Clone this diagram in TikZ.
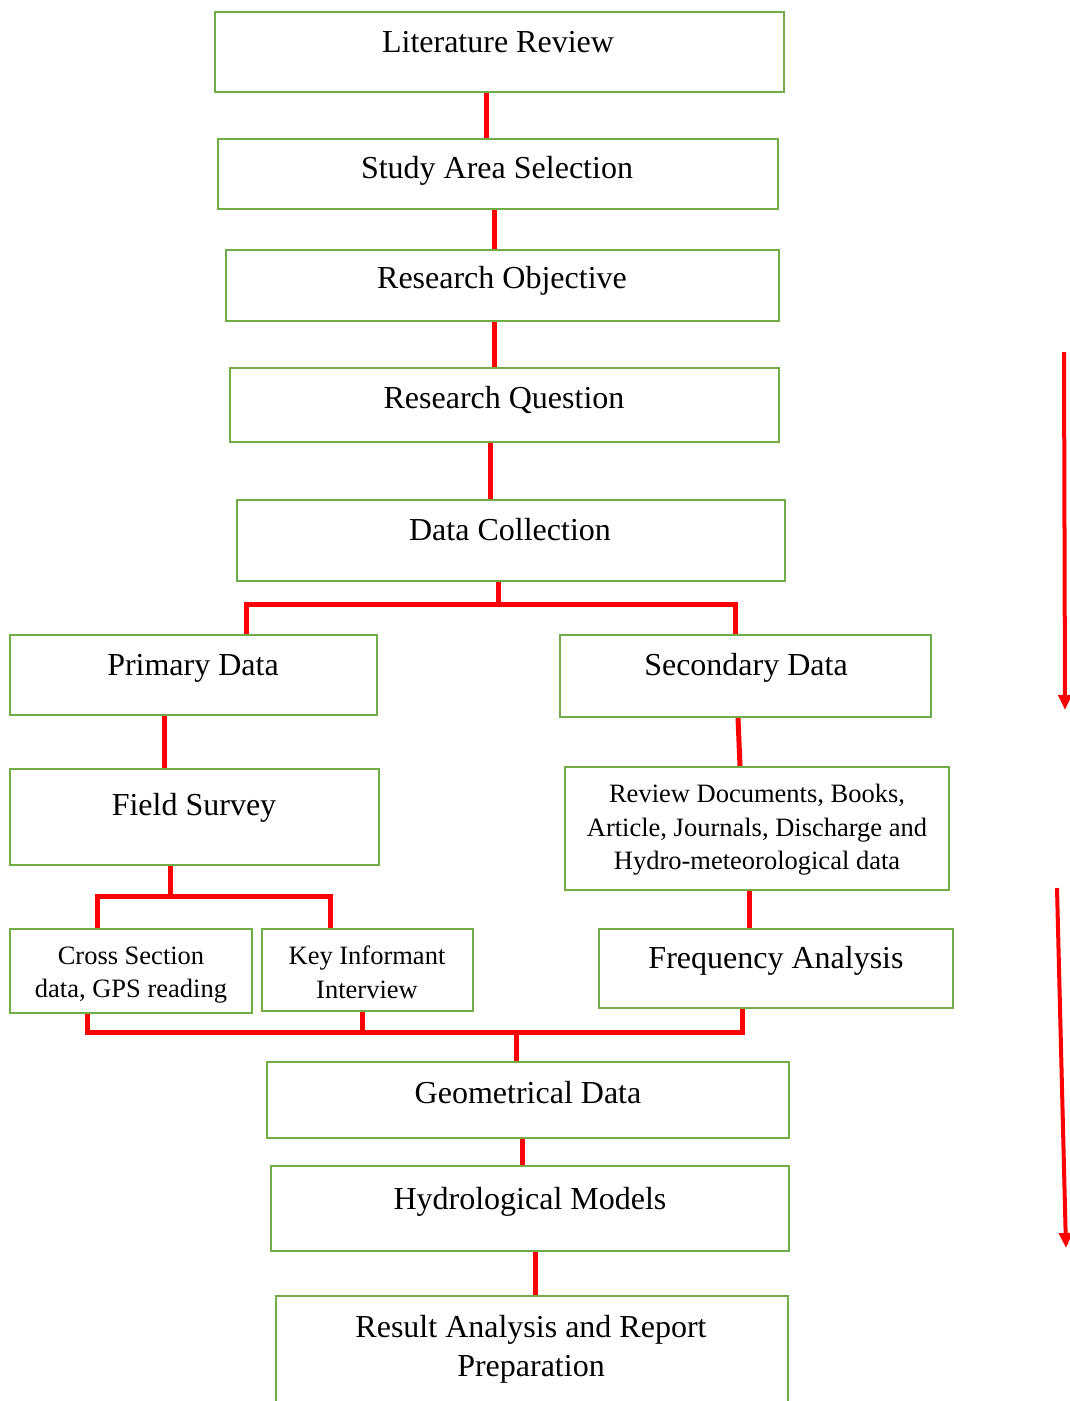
\documentclass[tikz,border=0pt]{standalone}
\usepackage{fontspec}
\setmainfont{Liberation Serif}
\usetikzlibrary{arrows.meta}
\definecolor{boxgreen}{HTML}{70AD47}
\definecolor{linkred}{HTML}{FF0000}
\tikzset{
  box/.style={draw=boxgreen, line width=2.2pt, rectangle, inner sep=0pt, fill=white},
  big/.style={inner sep=0pt, align=center, font=\fontsize{32}{39}\selectfont},
  small/.style={inner sep=0pt, align=center, font=\fontsize{26.5}{33.5}\selectfont},
  conn/.style={draw=linkred, line width=5pt},
  sidearrow/.style={draw=linkred, line width=4pt, -{Triangle[width=13pt,length=15pt]}}
}
\begin{document}
\begin{tikzpicture}[x=1pt,y=-1pt]
\useasboundingbox (0,0) rectangle (1070,1401);
\clip (0,0) rectangle (1070,1401);
\fill[white] (0,0) rectangle (1070,1401);

% boxes
\node[box, minimum width=569, minimum height=80] (lit) at (499.5,52) {};
\node[box, minimum width=560, minimum height=70] (study) at (498,174) {};
\node[box, minimum width=553, minimum height=71] (obj) at (502.5,285.5) {};
\node[box, minimum width=549, minimum height=74] (rq) at (504.5,405) {};
\node[box, minimum width=548, minimum height=81] (dc) at (511,540.5) {};
\node[box, minimum width=367, minimum height=80] (prim) at (193.5,675) {};
\node[box, minimum width=371, minimum height=82] (sec) at (745.5,676) {};
\node[box, minimum width=369, minimum height=96] (field) at (194.5,817) {};
\node[box, minimum width=384, minimum height=123] (rev) at (757,828.5) {};
\node[box, minimum width=242, minimum height=84] (cross) at (131,971) {};
\node[box, minimum width=211, minimum height=82] (key) at (367.5,970) {};
\node[box, minimum width=354, minimum height=79] (freq) at (776,968.5) {};
\node[box, minimum width=522, minimum height=76] (geo) at (528,1100) {};
\node[box, minimum width=518, minimum height=85] (hyd) at (530,1208.5) {};
\node[box, minimum width=512, minimum height=130] (res) at (532,1361) {};

% texts
\node[big] (litT) at (498,42) {Literature Review};
\node[big] (studyT) at (497,171) {Study Area Selection};
\node[big] (objT) at (502,281) {Research Objective};
\node[big] (rqT) at (504,400) {Research Question};
\node[big] (dcT) at (510,530) {Data Collection};
\node[big] (primT) at (193,668) {Primary Data};
\node[big] (secT) at (746,668) {Secondary Data};
\node[big] (fieldT) at (194,808) {Field Survey};
\node[small] (revT) at (757,830) {Review Documents, Books,\\Article, Journals, Discharge and\\Hydro-meteorological data};
\node[small] (crossT) at (131,975) {Cross Section\\data, GPS reading};
\node[small] (keyT) at (367,972.5) {Key Informant\\Interview};
\node[big] (freqT) at (776,961) {Frequency Analysis};
\node[big] (geoT) at (528,1093) {Geometrical Data};
\node[big] (hydT) at (530,1202) {Hydrological Models};
\node[big] (resT) at (531,1349) {Result Analysis and Report\\Preparation};

% straight connectors
\draw[conn] ([xshift=-13.5]lit.south) -- ([xshift=-12]study.north);
\draw[conn] ([xshift=-4]study.south) -- ([xshift=-8.5]obj.north);
\draw[conn] ([xshift=-8.5]obj.south) -- ([xshift=-10.5]rq.north);
\draw[conn] ([xshift=-14.5]rq.south) -- ([xshift=-21]dc.north);
\draw[conn] ([xshift=-7.5]sec.south) -- ([xshift=-17]rev.north);
\draw[conn] ([xshift=-8]rev.south) -- ([xshift=-27]freq.north);
\draw[conn] ([xshift=-29.5]prim.south) -- ([xshift=-30.5]field.north);
\draw[conn] ([xshift=-6]geo.south) -- ([xshift=-8]hyd.north);
\draw[conn] ([xshift=5]hyd.south) -- ([xshift=3]res.north);

% branch: data collection
\coordinate (j1) at (498,604);
\draw[conn] (dc.south -| j1) -- (j1);
\draw[conn] ([xshift=52.5]prim.north) |- (j1) -| ([xshift=-10.5]sec.north);

% branch: field survey
\coordinate (j2) at (170,896);
\draw[conn] ([xshift=-24.5]field.south) -- (j2);
\draw[conn] ([xshift=-34]cross.north) |- (j2) -| ([xshift=-37.5]key.north);

% merge to geometrical data
\coordinate (j3) at (516,1032);
\coordinate (ks) at ([xshift=-5.5]key.south);
\draw[conn] ([xshift=-44]cross.south) |- (j3) -| ([xshift=-34]freq.south);
\draw[conn] (ks) -- (ks |- j3);
\draw[conn] (j3) -- (geo.north -| j3);

% side arrows
\coordinate (a1s) at (1064,352);
\coordinate (a1e) at (1065,710);
\coordinate (a2s) at (1057,888);
\coordinate (a2e) at (1066,1248);
\draw[sidearrow] (a1s) -- (a1e);
\draw[sidearrow] (a2s) -- (a2e);
\end{tikzpicture}
\end{document}
